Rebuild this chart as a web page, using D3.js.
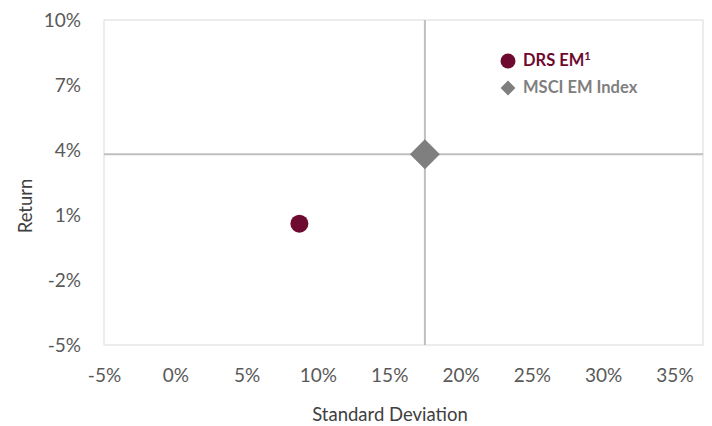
<!DOCTYPE html>
<html>
<head>
<meta charset="utf-8">
<script src="https://cdn.jsdelivr.net/npm/d3@7"></script>
<style>
  body { margin: 0; background: #fff; }
  svg { font-family: Lato, "Open Sans", sans-serif; }
</style>
</head>
<body>
<div id="chart"></div>
<script>
// series: [standard deviation %, return %]
const seriesNames = ['DRS EM', 'MSCI EM Index'];
const stdDev = [8.7, 17.5];
const returns = [0.6, 3.8];
const xTicks = [-5, 0, 5, 10, 15, 20, 25, 30, 35];
const yTicks = [-5, -2, 1, 4, 7, 10];
// axes cross at the index point
const crossX = 17.5;
const crossY = 3.8;

const width = 712, height = 426;
const margin = { top: 20, right: 9, bottom: 81, left: 104 };

const svg = d3.select('#chart').append('svg')
  .attr('width', width)
  .attr('height', height);

const x = d3.scaleLinear().domain([-5, 37]).range([margin.left, width - margin.right]);
const y = d3.scaleLinear().domain([-5, 10]).range([height - margin.bottom, margin.top]);

// plot area frame
svg.append('rect')
  .attr('x', x(-5)).attr('y', y(10))
  .attr('width', x(37) - x(-5)).attr('height', y(-5) - y(10))
  .attr('fill', 'none').attr('stroke', '#d9d9d9').attr('stroke-width', 1);

// crossing axis lines
svg.append('line')
  .attr('x1', x(crossX)).attr('x2', x(crossX))
  .attr('y1', y(10)).attr('y2', y(-5))
  .attr('stroke', '#bfbfbf').attr('stroke-width', 2);
svg.append('line')
  .attr('x1', x(-5)).attr('x2', x(37))
  .attr('y1', y(crossY)).attr('y2', y(crossY))
  .attr('stroke', '#bfbfbf').attr('stroke-width', 2);

// tick labels
const fmt = d => d + '%';
const xAxis = d3.axisBottom(x).tickValues(xTicks).tickFormat(fmt).tickSize(0).tickPadding(0);
const yAxis = d3.axisLeft(y).tickValues(yTicks).tickFormat(fmt).tickSize(0).tickPadding(0);

const gx = svg.append('g').attr('transform', `translate(0,${y(-5) + 23})`).call(xAxis);
const gy = svg.append('g').attr('transform', `translate(${margin.left - 23},0)`).call(yAxis);
[gx, gy].forEach(g => {
  g.select('.domain').remove();
  g.selectAll('text')
    .attr('fill', '#595959')
    .style('font-size', '19px')
    .style('font-family', 'Lato, "Open Sans", sans-serif');
});
gx.selectAll('text').attr('dy', '0.71em');

// axis titles
svg.append('text')
  .attr('x', 390).attr('y', 421)
  .attr('text-anchor', 'middle')
  .attr('fill', '#404040').style('font-size', '18.5px')
  .text('Standard Deviation');
svg.append('text')
  .attr('transform', `translate(31.5,206) rotate(-90)`)
  .attr('text-anchor', 'middle')
  .attr('fill', '#404040').style('font-size', '18.5px')
  .text('Return');

// points
const maroon = '#6e0a30';
const grey = '#7f7f7f';
svg.append('circle')
  .attr('cx', x(stdDev[0])).attr('cy', y(returns[0])).attr('r', 9)
  .attr('fill', maroon);
svg.append('path')
  .attr('d', d3.symbol(d3.symbolSquare, 450)())
  .attr('transform', `translate(${x(stdDev[1])},${y(returns[1])}) rotate(45)`)
  .attr('fill', grey);

// legend
const lg = svg.append('g').attr('transform', 'translate(508,0)');
lg.append('circle').attr('cx', 0).attr('cy', 61).attr('r', 7.5).attr('fill', maroon);
lg.append('path')
  .attr('d', d3.symbol(d3.symbolSquare, 110)())
  .attr('transform', 'translate(0,88) rotate(45)')
  .attr('fill', grey);
const t1 = lg.append('text').attr('x', 15).attr('y', 66)
  .attr('fill', maroon).style('font-size', '16.5px').style('font-weight', 'bold')
  .text(seriesNames[0]);
t1.append('tspan').attr('dy', -6).style('font-size', '11px').text('1');
lg.append('text').attr('x', 15).attr('y', 93)
  .attr('fill', grey).style('font-size', '16.5px').style('font-weight', 'bold')
  .text(seriesNames[1]);
</script>
</body>
</html>
